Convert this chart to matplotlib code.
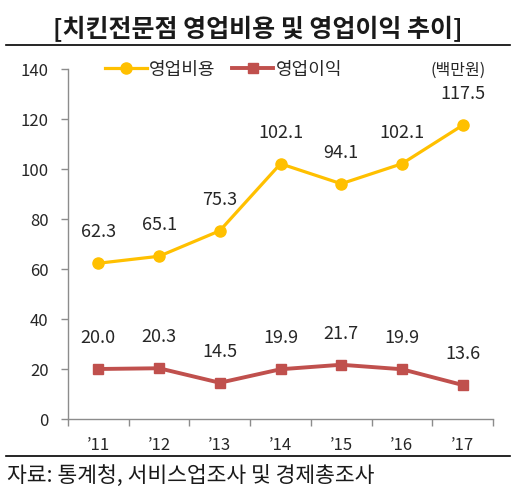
import matplotlib
matplotlib.use("Agg")
import matplotlib.pyplot as plt
from matplotlib.lines import Line2D

plt.rcParams['font.family'] = ['Noto Sans CJK KR', 'DejaVu Sans']

years = ["’11", "’12", "’13", "’14", "’15", "’16", "’17"]
op_cost = [62.3, 65.1, 75.3, 102.1, 94.1, 102.1, 117.5]
op_profit = [20.0, 20.3, 14.5, 19.9, 21.7, 19.9, 13.6]
cost_labels = ["62.3", "65.1", "75.3", "102.1", "94.1", "102.1", "117.5"]
profit_labels = ["20.0", "20.3", "14.5", "19.9", "21.7", "19.9", "13.6"]
yticks = [0, 20, 40, 60, 80, 100, 120, 140]

YELLOW = "#FFC000"
RED = "#C0504D"
AXIS = "#8C8C8C"
TXT = "#262626"

W, H = 532, 502
fig = plt.figure(figsize=(W / 100, H / 100), dpi=100)
ax = fig.add_axes([68 / W, 1 - 420 / H, (493 - 68) / W, (420 - 70) / H])

x = list(range(len(years)))
ax.plot(x, op_cost, color=YELLOW, lw=2.3, marker='o', ms=8, label="영업비용", zorder=3)
ax.plot(x, op_profit, color=RED, lw=2.8, marker='s', ms=7.5, label="영업이익", zorder=3)

for xi, v, s in zip(x, op_cost, cost_labels):
    ax.annotate(s, (xi, v), xytext=(0, 23), textcoords='offset points',
                ha='center', va='center', fontsize=13, color=TXT)
for xi, v, s in zip(x, op_profit, profit_labels):
    ax.annotate(s, (xi, v), xytext=(0, 23), textcoords='offset points',
                ha='center', va='center', fontsize=13, color=TXT)

ax.set_xlim(-0.5, len(years) - 0.5)
ax.set_ylim(0, 140)
ax.set_yticks(yticks)
ax.set_yticklabels([str(t) for t in yticks], fontsize=12, color=TXT)
ax.set_xticks([i - 0.5 for i in range(len(years) + 1)])
ax.set_xticklabels([])
ax.set_xticks(x, minor=True)
ax.set_xticklabels(years, minor=True, fontsize=12, color=TXT)
ax.tick_params(axis='x', which='major', direction='out', length=5, color=AXIS, width=1)
ax.tick_params(axis='x', which='minor', length=0, pad=12)
ax.tick_params(axis='y', direction='out', length=5, color=AXIS, width=1, pad=9)

for side in ['top', 'right']:
    ax.spines[side].set_visible(False)
for side in ['left', 'bottom']:
    ax.spines[side].set_color(AXIS)
    ax.spines[side].set_linewidth(1)

leg = ax.legend(loc='center left', bbox_to_anchor=(0.07, 1.0), ncol=2, frameon=False,
                fontsize=13, handlelength=2.3, handletextpad=0.15, columnspacing=0.9,
                borderaxespad=0)
for t in leg.get_texts():
    t.set_color(TXT)

fig.text(458 / W, 1 - 70 / H, "(백만원)", ha='center', va='center', fontsize=11.5, color=TXT)

fig.text(257.5 / W, 1 - 29 / H, "[치킨전문점 영업비용 및 영업이익 추이]", ha='center', va='center',
         fontsize=18, fontweight='bold', color='#1a1a1a')
fig.add_artist(Line2D([6 / W, 510 / W], [1 - 46 / H, 1 - 46 / H], color='black', lw=1.2))
fig.add_artist(Line2D([6 / W, 510 / W], [1 - 457 / H, 1 - 457 / H], color='black', lw=1.2))
fig.text(7 / W, 1 - 476 / H, "자료: 통계청, 서비스업조사 및 경제총조사", ha='left', va='center',
         fontsize=15.5, color='#1a1a1a')

fig.savefig("out.png", dpi=100)
